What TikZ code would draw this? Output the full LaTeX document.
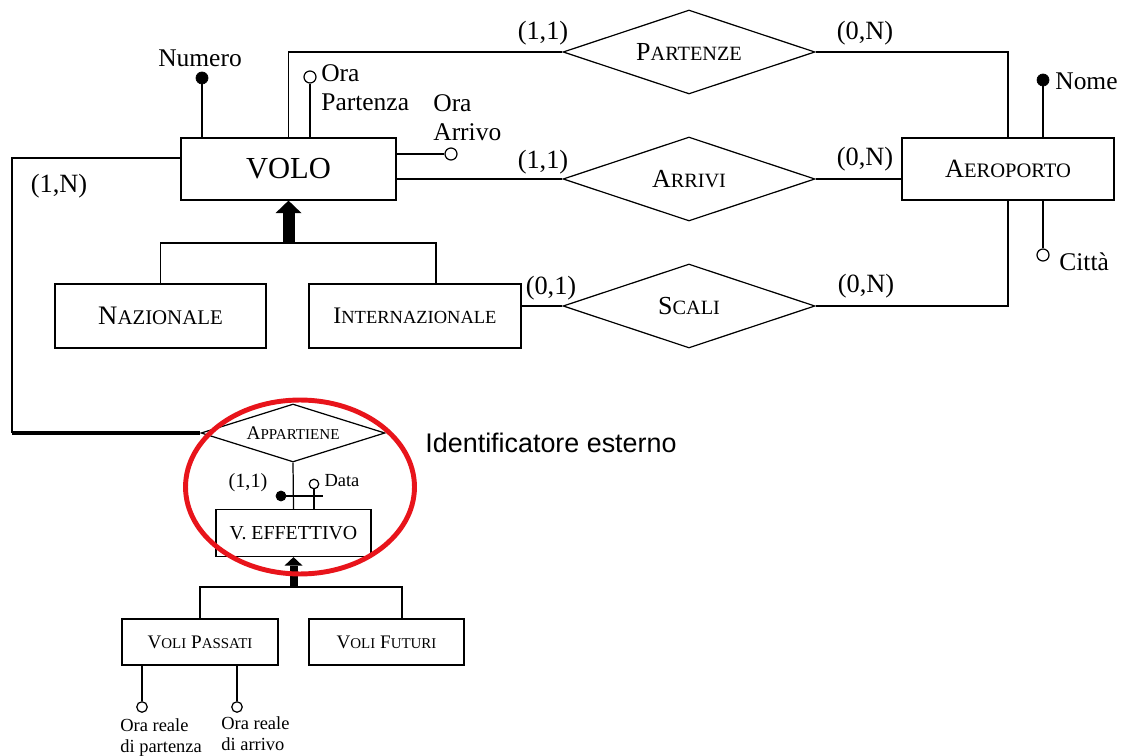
\documentclass[tikz,border=0pt]{standalone}
\usepackage{graphicx}
\usepackage{fontspec}
\setmainfont{Liberation Serif}
\newfontfamily\notefont{Liberation Sans}
\usetikzlibrary{shapes.geometric,arrows.meta,positioning,calc}
\definecolor{ringred}{RGB}{232,20,27}
% fake small capitals
\newcommand{\kap}[2]{#1\scalebox{0.78}{#2}}
\newcommand{\setfs}[2]{\fontsize{#1}{#2}\selectfont}

\begin{document}
\begin{tikzpicture}[x=0.02cm, y=-0.02cm,
    conn/.style={line width=0.7pt},
    entity/.style={draw, rectangle, line width=0.7pt, inner sep=0pt},
    relation/.style={draw, diamond, aspect=3, line width=0.7pt, inner sep=0pt, minimum width=5.04cm, minimum height=1.68cm, font=\setfs{14.8}{17}},
    keyattr/.style={circle, draw, fill=black, minimum size=0.24cm, inner sep=0pt},
    attr/.style={circle, draw, fill=white, line width=0.7pt, minimum size=0.24cm, inner sep=0pt},
    lbl/.style={inner sep=0pt, font=\setfs{14.5}{16.5}},
    smalllbl/.style={inner sep=0pt, font=\setfs{10.5}{12}},
    card/.style={inner sep=0pt, font=\setfs{15}{18}},
    isa/.style={line width=0.24cm, -{Triangle[width=0.52cm,length=0.25cm,line width=0pt]}},
    isasmall/.style={line width=0.16cm, -{Triangle[width=0.36cm,length=0.17cm,line width=0pt]}},
    idline/.style={line width=2.8pt},
    idring/.style={draw=ringred, line width=2.8pt}
]
\useasboundingbox (0,0) rectangle (1122,756);

% Entities
\node[entity, minimum width=4.3cm, minimum height=1.24cm, font=\setfs{17.4}{20}] (volo) at (288.5,169) {VOLO};
\node[entity, minimum width=4.24cm, minimum height=1.24cm, font=\setfs{15}{17}] (aeroporto) at (1008,169) {\kap{A}{EROPORTO}};
\node[entity, minimum width=4.22cm, minimum height=1.28cm, font=\setfs{15.2}{17}] (nazionale) at (160.5,316) {\kap{N}{AZIONALE}};
\node[entity, minimum width=4.24cm, minimum height=1.28cm, font=\setfs{13.5}{16}] (internaz) at (415,316) {\kap{I}{NTERNAZIONALE}};
\node[entity, minimum width=3.1cm, minimum height=0.94cm, font=\setfs{11.3}{13}] (veff) at (293.5,533) {V. EFFETTIVO};
\node[entity, minimum width=3.12cm, minimum height=0.92cm, font=\setfs{10.9}{13}] (passati) at (200,642) {\kap{V}{OLI} \kap{P}{ASSATI}};
\node[entity, minimum width=3.1cm, minimum height=0.92cm, font=\setfs{10.9}{13}] (futuri) at (386.5,642) {\kap{V}{OLI} \kap{F}{UTURI}};

% Relationships
\node[relation] (partenze) at (689,52) {\kap{P}{ARTENZE}};
\node[relation] (arrivi) at (689,179) {\kap{A}{RRIVI}};
\node[relation] (scali) at (689,306) {\kap{S}{CALI}};
\node[relation, minimum width=3.68cm, minimum height=1.16cm, font=\setfs{11}{13}] (appartiene) at (293,433) {\kap{A}{PPARTIENE}};

% Attributes
\node[keyattr] (numero) at (202,78) {};
\node[lbl] (numerolbl) at (200,58.5) {Numero};
\node[attr] (orapart) at (310,77) {};
\node[lbl, align=left, anchor=north west] (orapartlbl) at (321,64) {Ora\\Partenza};
\node[attr] (oraarr) at (451,154) {};
\node[lbl, align=left, anchor=north west] (oraarrlbl) at (433,94) {Ora\\Arrivo};
\node[keyattr] (nome) at (1043,80) {};
\node[lbl, anchor=west] (nomelbl) at (1055,81) {Nome};
\node[attr] (citta) at (1043,255) {};
\node[lbl, anchor=west] (cittalbl) at (1059,262) {Città};
\node[keyattr, minimum size=0.2cm] (idkey) at (281,496) {};
\coordinate (idend) at (323,496);
\node[attr, minimum size=0.19cm] (data) at (314,484) {};
\node[smalllbl] (datalbl) at (342,481) {Data};
\node[attr, minimum size=0.21cm] (orareap) at (142,707) {};
\node[smalllbl, align=left, anchor=north west] (orareaplbl) at (120,718) {Ora reale\\di partenza};
\node[attr, minimum size=0.21cm] (orareaa) at (237,707) {};
\node[smalllbl, align=left, anchor=north west] (orareaalbl) at (221,716) {Ora reale\\di arrivo};

\draw[conn] (numero) -- (numero |- volo.north);
\draw[conn] (orapart) -- (orapart |- volo.north);
\draw[conn] (oraarr) -- (oraarr -| volo.east);
\draw[conn] (nome) -- (nome |- aeroporto.north);
\draw[conn] (citta) -- (citta |- aeroporto.south);
\draw[conn] (idkey) -- (idend);
\draw[conn] (data) -- (data |- veff.north);
\draw[conn] (orareap) -- (orareap |- passati.south);
\draw[conn] (orareaa) -- (orareaa |- passati.south);

% Links
\draw[conn] (volo.north) |- (partenze.west);
\draw[conn] (arrivi.west) -- (arrivi.west -| volo.east);
\draw[conn] (partenze.east) -| (aeroporto.north);
\draw[conn] (arrivi.east) -- (arrivi.east -| aeroporto.west);
\draw[conn] (scali.east) -| (aeroporto.south);
\draw[conn] (scali.west) -- (scali.west -| internaz.east);
\coordinate (bend) at (12,433);
\draw[conn] ([yshift=0.22cm]volo.west) -| (bend);
\draw[idline] (bend) -- (appartiene.west);
\draw[conn] (appartiene.south) -- (veff.north);

% Cardinalities
\node[card] (c1) at (543,33) {(1,1)};
\node[card] (c2) at (543,162) {(1,1)};
\node[card] (c3) at (865,33) {(0,N)};
\node[card] (c4) at (865,159) {(0,N)};
\node[card] (c5) at (866,286) {(0,N)};
\node[card] (c6) at (551,288) {(0,1)};
\node[card] (c7) at (59,186) {(1,N)};
\node[inner sep=0pt, font=\setfs{11.5}{13}] (c8) at (248,483) {(1,1)};

% Generalizations
\coordinate (g1) at (288.5,243);
\draw[isa] (g1) -- (volo.south);
\draw[conn] (nazionale.north) |- (g1) -| ([xshift=0.42cm]internaz.north);
\coordinate (g2) at (293.5,587);
\draw[isasmall] (g2) -- (veff.south);
\draw[conn] (passati.north) |- (g2) -| ([xshift=0.31cm]futuri.north);

% External identifier note
\draw[idring] (300,487) ellipse [x radius=2.29cm, y radius=1.74cm];
\node[inner sep=0pt, font=\notefont\setfs{15.3}{18}] (note) at (551,443) {Identificatore esterno};

\end{tikzpicture}
\end{document}
